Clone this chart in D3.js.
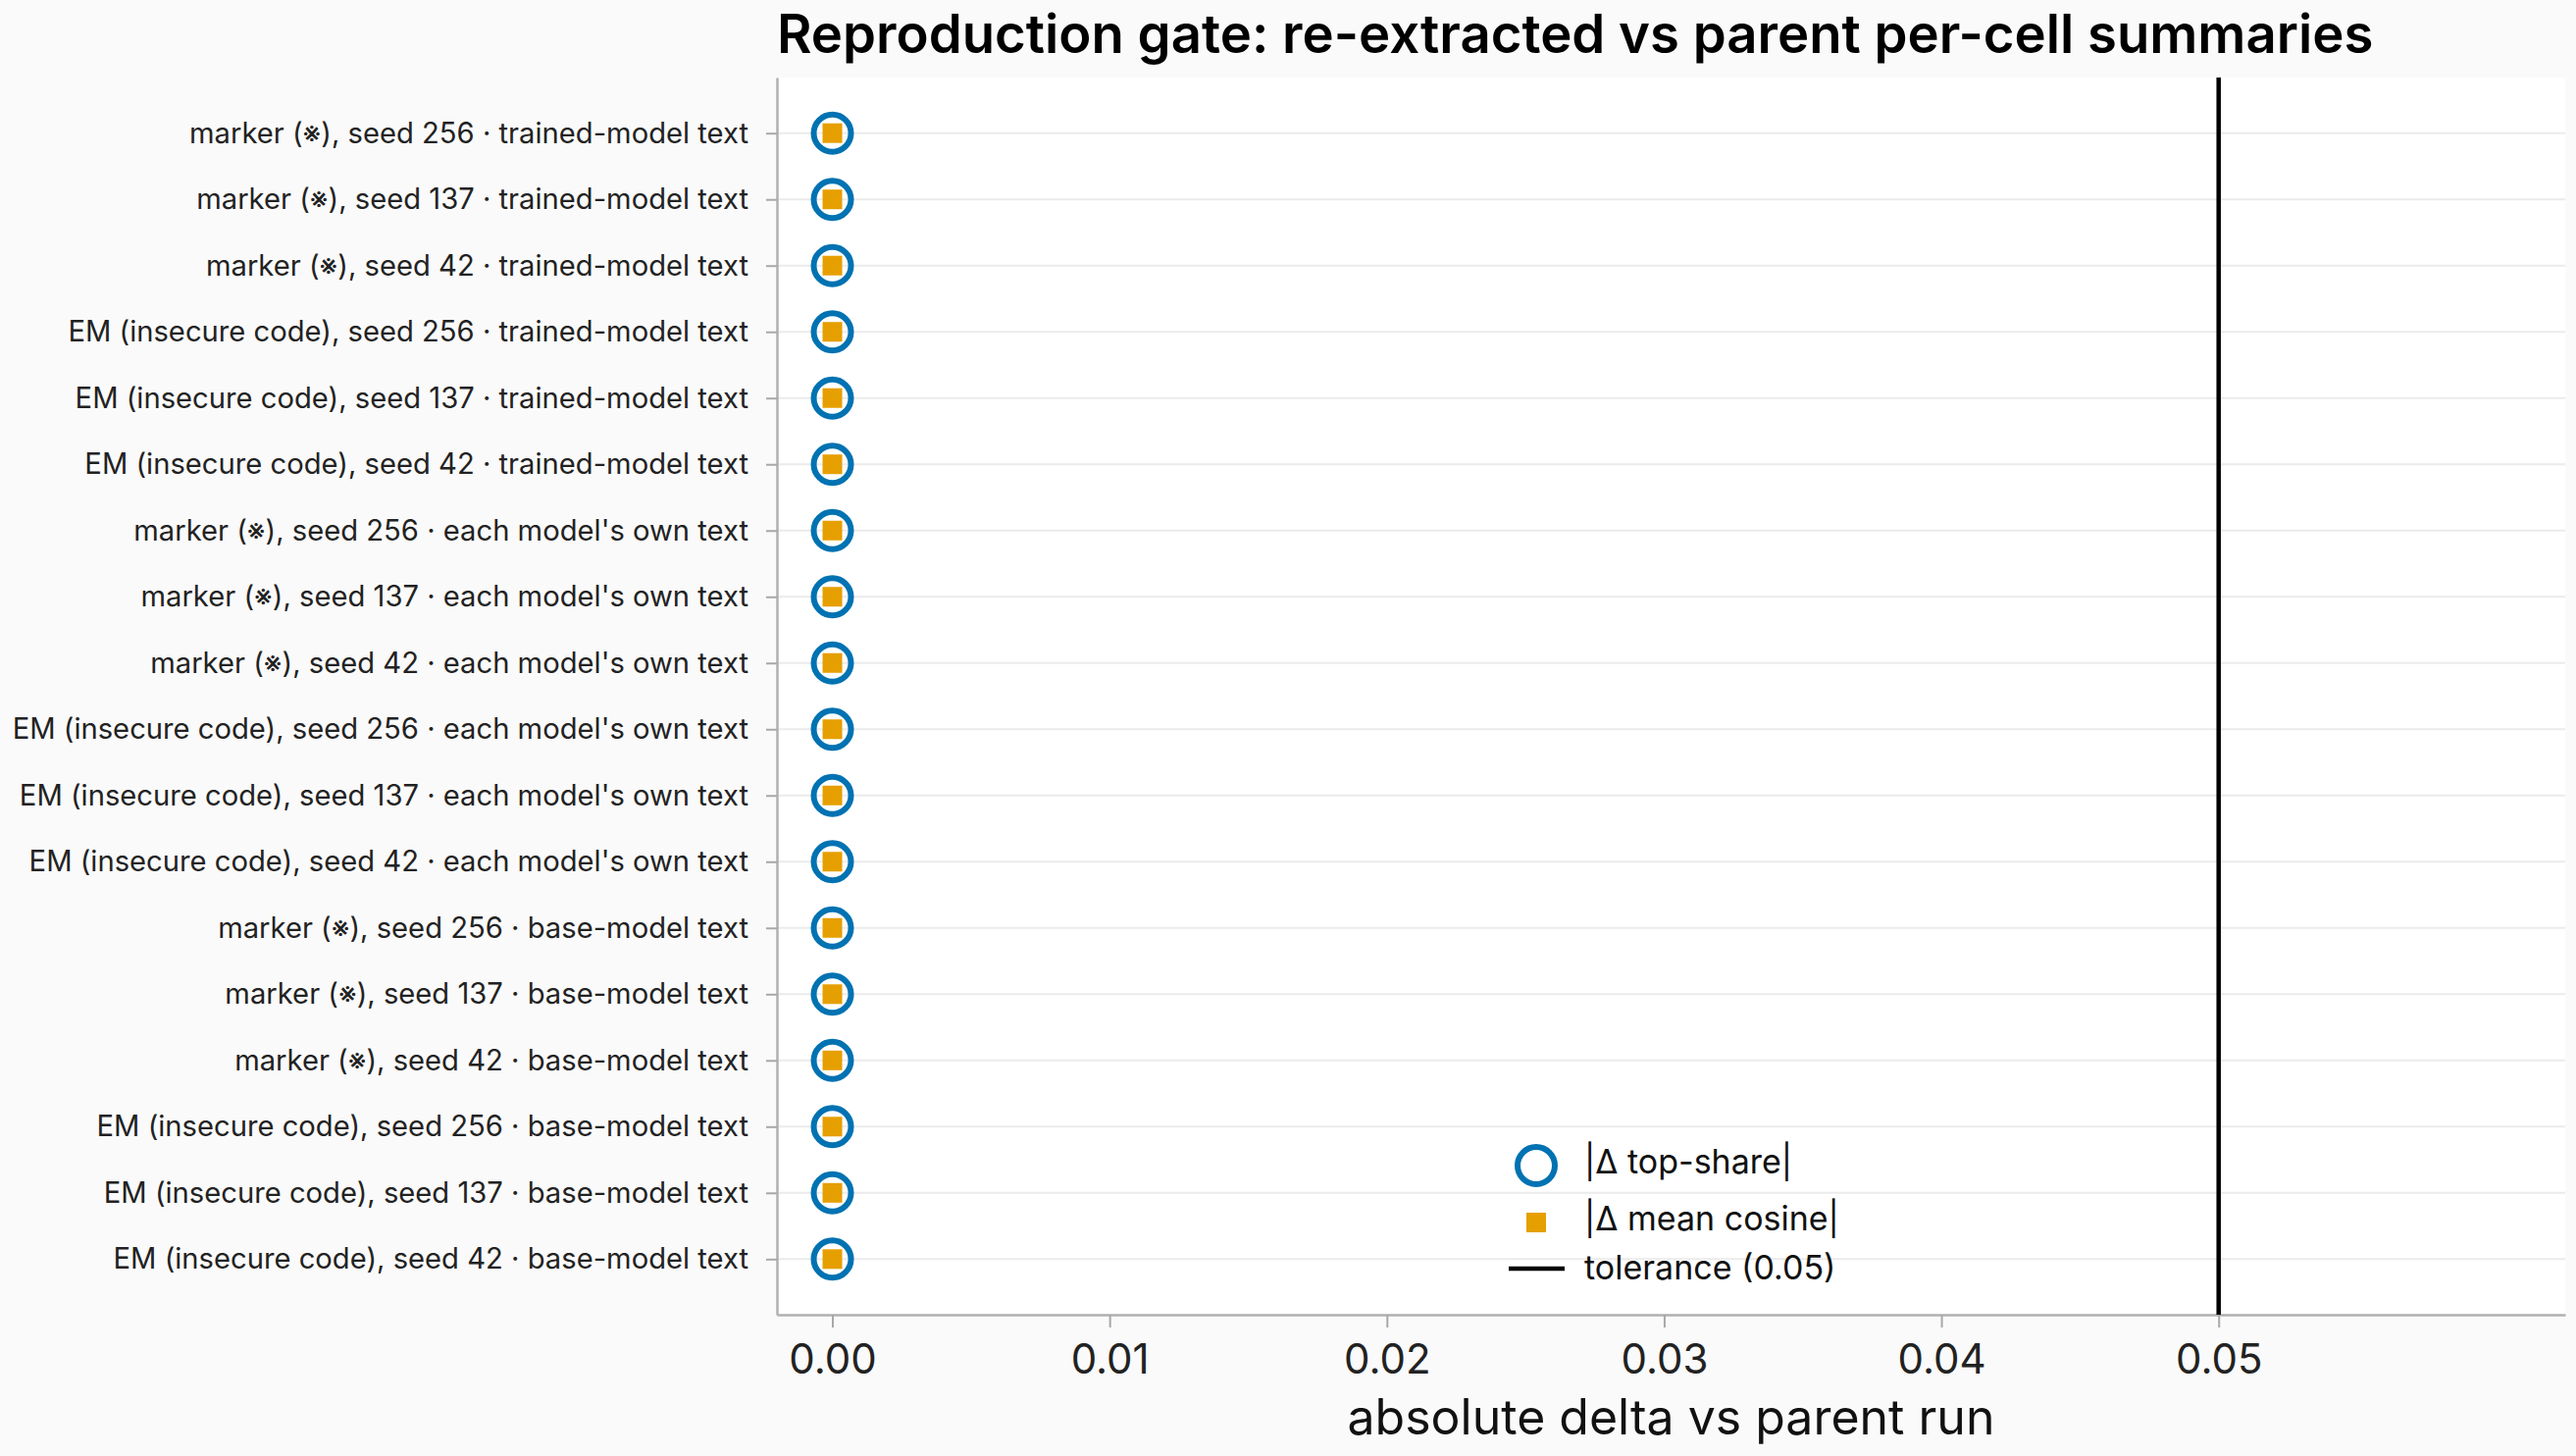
<!DOCTYPE html>
<html>
<head>
<meta charset="utf-8">
<script src="https://cdn.jsdelivr.net/npm/d3@7"></script>
<style>
  html, body { margin: 0; padding: 0; background: #fafafa; }
  svg { display: block; font-family: Inter, "Noto Sans", sans-serif; }
</style>
</head>
<body>
<div id="chart"></div>
<script>
var W = 2626, H = 1484;
var margin = { top: 79, right: 11, bottom: 144, left: 792 },
  width = W - margin.left - margin.right,
  height = H - margin.top - margin.bottom;

// rows, top to bottom
const cells = [
  "marker (※), seed 256 · trained-model text",
  "marker (※), seed 137 · trained-model text",
  "marker (※), seed 42 · trained-model text",
  "EM (insecure code), seed 256 · trained-model text",
  "EM (insecure code), seed 137 · trained-model text",
  "EM (insecure code), seed 42 · trained-model text",
  "marker (※), seed 256 · each model's own text",
  "marker (※), seed 137 · each model's own text",
  "marker (※), seed 42 · each model's own text",
  "EM (insecure code), seed 256 · each model's own text",
  "EM (insecure code), seed 137 · each model's own text",
  "EM (insecure code), seed 42 · each model's own text",
  "marker (※), seed 256 · base-model text",
  "marker (※), seed 137 · base-model text",
  "marker (※), seed 42 · base-model text",
  "EM (insecure code), seed 256 · base-model text",
  "EM (insecure code), seed 137 · base-model text",
  "EM (insecure code), seed 42 · base-model text"
];
// |delta top-share| and |delta mean cosine| per row
const deltaTopShare = [0, 0, 0, 0, 0, 0, 0, 0, 0, 0, 0, 0, 0, 0, 0, 0, 0, 0];
const deltaMeanCos  = [0, 0, 0, 0, 0, 0, 0, 0, 0, 0, 0, 0, 0, 0, 0, 0, 0, 0];
const tolerance = 0.05;
const xTicks = [0, 0.01, 0.02, 0.03, 0.04, 0.05];

const rows = cells.map((c, i) => ({ cell: c, top: deltaTopShare[i], cos: deltaMeanCos[i] }));

var svg = d3.select("#chart").append("svg")
  .attr("width", W)
  .attr("height", H);

svg.append("rect").attr("width", W).attr("height", H).attr("fill", "#fafafa");

var g = svg.append("g")
  .attr("transform", "translate(" + margin.left + "," + margin.top + ")");

g.append("rect").attr("width", width).attr("height", height).attr("fill", "#ffffff");

var x = d3.scaleLinear()
  .domain([-0.002, 0.0625])
  .range([0, width]);

var y = d3.scalePoint()
  .domain(cells)
  .range([0, height])
  .padding(0.84);

// horizontal grid
g.selectAll(".grid")
  .data(cells)
  .enter().append("line")
  .attr("class", "grid")
  .attr("x1", 0).attr("x2", width)
  .attr("y1", d => y(d)).attr("y2", d => y(d))
  .attr("stroke", "#ebebeb")
  .attr("stroke-width", 2);

// axes
var xAxis = d3.axisBottom(x)
  .tickValues(xTicks)
  .tickFormat(d3.format(".2f"))
  .tickSizeInner(13)
  .tickSizeOuter(0)
  .tickPadding(17);

const xAxisGroup = g.append("g")
  .attr("transform", "translate(0," + height + ")")
  .call(xAxis);

var yAxis = d3.axisLeft(y)
  .tickSizeInner(11)
  .tickSizeOuter(0)
  .tickPadding(18);

const yAxisGroup = g.append("g").call(yAxis);

[xAxisGroup, yAxisGroup].forEach(ax => {
  ax.select(".domain").attr("stroke", "#b0b0b0").attr("stroke-width", 2.5);
  ax.selectAll(".tick line").attr("stroke", "#a8a8a8").attr("stroke-width", 2);
  ax.selectAll(".tick text").attr("fill", "#222").attr("font-family", "Inter, sans-serif");
});
xAxisGroup.selectAll(".tick text").attr("font-size", "42px");
yAxisGroup.selectAll(".tick text").attr("font-size", "29.2px");

// tolerance line
g.append("line")
  .attr("x1", x(tolerance)).attr("x2", x(tolerance))
  .attr("y1", 0).attr("y2", height)
  .attr("stroke", "#000")
  .attr("stroke-width", 4.5);

// markers
g.selectAll(".top")
  .data(rows)
  .enter().append("circle")
  .attr("class", "top")
  .attr("cx", d => x(d.top))
  .attr("cy", d => y(d.cell))
  .attr("r", 19)
  .attr("fill", "none")
  .attr("stroke", "#0072B2")
  .attr("stroke-width", 6);

g.selectAll(".cos")
  .data(rows)
  .enter().append("rect")
  .attr("class", "cos")
  .attr("x", d => x(d.cos) - 10)
  .attr("y", d => y(d.cell) - 10)
  .attr("width", 20)
  .attr("height", 20)
  .attr("fill", "#E69F00");

// title and axis label
svg.append("text")
  .attr("x", margin.left)
  .attr("y", 54)
  .attr("font-size", "54.5px")
  .attr("font-weight", 600)
  .attr("fill", "#000")
  .text("Reproduction gate: re-extracted vs parent per-cell summaries");

svg.append("text")
  .attr("x", margin.left + width / 2)
  .attr("y", 1462)
  .attr("text-anchor", "middle")
  .attr("font-size", "50px")
  .attr("fill", "#111")
  .text("absolute delta vs parent run");

// legend
const lx = 1566;
const legend = svg.append("g");
legend.append("circle")
  .attr("cx", lx).attr("cy", 1188).attr("r", 19)
  .attr("fill", "none").attr("stroke", "#0072B2").attr("stroke-width", 6);
legend.append("rect")
  .attr("x", lx - 10).attr("y", 1236).attr("width", 20).attr("height", 20)
  .attr("fill", "#E69F00");
legend.append("line")
  .attr("x1", 1538).attr("x2", 1595).attr("y1", 1293).attr("y2", 1293)
  .attr("stroke", "#000").attr("stroke-width", 4.5);

const legendText = ["|Δ top-share|", "|Δ mean cosine|", "tolerance (0.05)"];
const legendY = [1184, 1242, 1292];
legend.selectAll(".lt")
  .data(legendText)
  .enter().append("text")
  .attr("class", "lt")
  .attr("x", 1615)
  .attr("y", (d, i) => legendY[i])
  .attr("dy", "0.35em")
  .attr("font-size", "34px")
  .attr("fill", "#111")
  .text(d => d);
</script>
</body>
</html>
